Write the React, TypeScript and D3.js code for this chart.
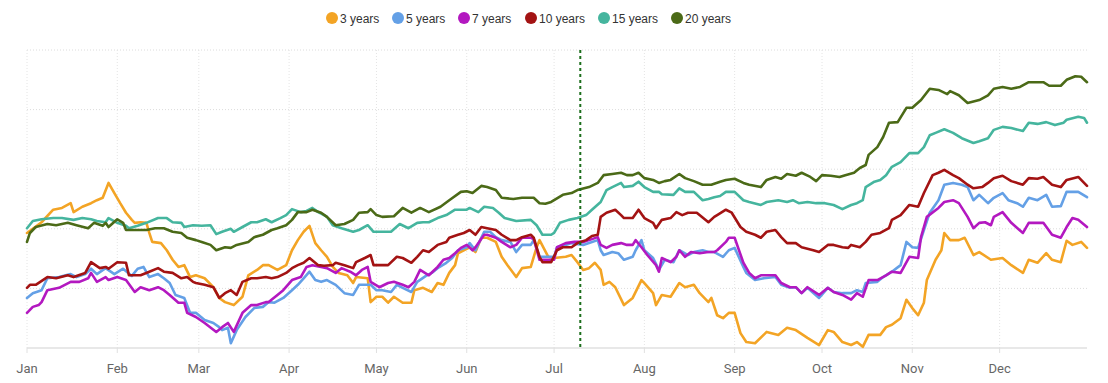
import React from "react";
import * as d3 from "d3";

const YEAR = 2023;
const seriesNames = ["3 years", "5 years", "7 years", "10 years", "15 years", "20 years"];
const seriesColors = ["#f3a425", "#64a0e6", "#b318c0", "#a31313", "#45b59e", "#4b6a17"];
const referenceDay = 190; // dotted marker (Jul 10)
const yTicks = [0, 1, 2, 3, 4, 5];

// [day of year, value]
const s3y: [number, number][] = [[0,1.93],[5,2.11],[9,2.32],[12,2.35],[15,2.43],[16,2.28],[19,2.37],[22,2.43],[24,2.48],[26,2.52],[28,2.77],[30,2.60],[32,2.43],[34,2.27],[36,2.15],[37,2.10],[39,2.11],[41,2.10],[42,1.93],[43,1.78],[46,1.76],[48,1.64],[50,1.48],[52,1.36],[54,1.39],[56,1.19],[58,1.22],[61,1.17],[64,1.02],[66,0.84],[68,0.77],[71,0.72],[74,0.86],[76,1.22],[79,1.31],[81,1.39],[83,1.39],[86,1.31],[89,1.39],[91,1.64],[93,1.81],[95,1.95],[97,2.05],[99,1.76],[101,1.64],[103,1.53],[105,1.36],[107,1.26],[110,1.22],[112,1.09],[113,1.19],[117,1.17],[118,0.77],[120,0.86],[122,0.86],[124,0.76],[126,0.86],[129,0.76],[132,0.76],[133,0.97],[136,1.01],[139,0.94],[141,1.09],[143,1.06],[145,1.26],[147,1.39],[148,1.59],[150,1.64],[152,1.69],[154,1.61],[156,1.85],[158,1.85],[161,1.78],[163,1.53],[165,1.39],[168,1.19],[170,1.34],[173,1.36],[175,1.69],[176,1.81],[179,1.53],[181,1.51],[185,1.53],[187,1.56],[189,1.44],[191,1.31],[193,1.34],[195,1.43],[197,1.31],[198,1.06],[200,1.11],[202,1.02],[205,0.72],[208,0.84],[211,1.14],[212,1.09],[215,0.92],[216,0.72],[218,0.89],[221,0.86],[224,1.09],[226,1.02],[229,1.06],[231,0.92],[234,0.77],[235,0.84],[237,0.55],[239,0.50],[241,0.59],[243,0.59],[245,0.25],[247,0.10],[250,0.08],[254,0.27],[258,0.22],[261,0.34],[264,0.30],[268,0.17],[272,0.05],[275,0.30],[277,0.27],[280,0.10],[283,0.05],[285,0.10],[287,0.02],[289,0.22],[293,0.22],[295,0.35],[297,0.39],[300,0.50],[302,0.81],[304,0.67],[306,0.55],[308,0.76],[309,1.14],[312,1.48],[314,1.64],[315,1.93],[317,1.81],[320,1.81],[322,1.85],[325,1.56],[327,1.61],[331,1.48],[335,1.51],[338,1.39],[342,1.26],[344,1.48],[347,1.43],[350,1.59],[352,1.48],[355,1.44],[357,1.80],[359,1.73],[362,1.78],[364,1.68]];

const s5y: [number, number][] = [[0,0.84],[2,0.92],[5,0.97],[7,1.17],[11,1.19],[15,1.24],[17,1.19],[20,1.24],[22,1.33],[24,1.24],[27,1.34],[30,1.24],[33,1.33],[36,1.21],[38,1.33],[40,1.36],[42,1.19],[45,1.24],[47,1.17],[49,1.09],[51,0.89],[54,0.84],[56,0.59],[58,0.59],[61,0.47],[64,0.42],[66,0.35],[67,0.30],[69,0.34],[70,0.08],[72,0.30],[75,0.52],[78,0.67],[81,0.69],[83,0.77],[85,0.76],[88,0.84],[91,0.97],[93,1.06],[95,1.17],[97,1.28],[99,1.14],[101,1.11],[103,1.14],[106,1.06],[109,0.92],[112,0.89],[114,1.06],[118,1.06],[120,0.97],[122,0.97],[125,0.94],[127,1.06],[129,1.01],[132,0.94],[134,1.11],[137,1.21],[139,1.26],[141,1.34],[144,1.43],[146,1.51],[148,1.64],[151,1.69],[152,1.76],[154,1.64],[157,1.95],[159,1.95],[161,1.86],[163,1.81],[166,1.78],[168,1.61],[170,1.73],[173,1.73],[174,1.81],[176,1.53],[179,1.53],[181,1.53],[182,1.69],[185,1.73],[187,1.76],[191,1.73],[193,1.76],[196,1.81],[197,1.64],[198,1.56],[201,1.61],[203,1.59],[205,1.48],[208,1.53],[209,1.64],[211,1.81],[212,1.64],[215,1.51],[217,1.31],[219,1.48],[222,1.44],[224,1.64],[227,1.56],[229,1.61],[232,1.64],[234,1.61],[236,1.61],[239,1.53],[241,1.64],[243,1.68],[246,1.36],[247,1.26],[250,1.14],[253,1.17],[257,1.19],[259,1.06],[262,1.01],[264,1.02],[266,0.92],[268,1.01],[272,0.84],[275,1.01],[277,0.94],[280,0.92],[283,0.92],[285,0.97],[287,0.94],[288,1.09],[292,1.11],[294,1.19],[297,1.28],[300,1.39],[302,1.78],[304,1.69],[306,1.68],[308,1.98],[310,2.27],[313,2.48],[315,2.74],[318,2.77],[321,2.74],[323,2.70],[325,2.48],[327,2.57],[330,2.43],[332,2.52],[335,2.60],[337,2.48],[340,2.43],[342,2.37],[344,2.52],[347,2.48],[350,2.57],[352,2.37],[355,2.38],[357,2.62],[361,2.62],[364,2.53]];

const s7y: [number, number][] = [[0,0.59],[2,0.69],[4,0.72],[5,0.77],[7,0.97],[11,1.01],[13,1.06],[15,1.11],[18,1.11],[21,1.17],[22,1.26],[24,1.11],[27,1.19],[28,1.14],[31,1.19],[34,1.14],[37,0.94],[39,1.02],[42,0.97],[45,1.02],[47,0.97],[49,0.89],[52,0.76],[54,0.76],[55,0.59],[58,0.52],[61,0.42],[65,0.27],[67,0.35],[69,0.42],[71,0.27],[74,0.59],[77,0.72],[79,0.72],[82,0.77],[83,0.77],[86,0.89],[88,0.97],[91,1.14],[94,1.19],[96,1.36],[98,1.39],[101,1.36],[103,1.34],[106,1.26],[108,1.34],[111,1.28],[113,1.22],[115,1.31],[117,1.36],[118,1.11],[121,1.02],[124,1.09],[126,1.11],[129,1.06],[131,1.02],[133,1.11],[135,1.31],[138,1.22],[141,1.36],[143,1.48],[145,1.51],[147,1.59],[149,1.68],[151,1.73],[153,1.64],[154,1.69],[157,1.90],[158,1.90],[161,1.85],[163,1.78],[166,1.69],[168,1.73],[170,1.85],[173,1.85],[174,1.83],[176,1.48],[179,1.48],[181,1.48],[182,1.69],[185,1.76],[188,1.78],[191,1.78],[193,1.81],[196,1.86],[197,1.73],[199,1.68],[201,1.73],[204,1.76],[206,1.73],[208,1.73],[209,1.81],[211,1.69],[213,1.56],[216,1.39],[217,1.28],[218,1.51],[221,1.44],[223,1.53],[224,1.64],[226,1.53],[228,1.61],[231,1.59],[234,1.61],[236,1.61],[237,1.64],[240,1.78],[241,1.85],[243,1.85],[246,1.43],[248,1.26],[250,1.17],[252,1.22],[257,1.22],[259,1.09],[262,1.02],[264,1.02],[266,0.92],[268,1.02],[272,0.89],[275,1.01],[277,0.94],[280,0.89],[283,0.81],[285,0.92],[287,0.86],[289,1.14],[292,1.14],[295,1.22],[297,1.28],[300,1.26],[303,1.53],[306,1.51],[307,1.86],[309,2.20],[313,2.35],[315,2.45],[318,2.48],[320,2.43],[323,2.20],[325,2.01],[327,2.10],[329,2.11],[331,2.06],[332,2.20],[335,2.28],[338,2.10],[342,1.93],[344,2.10],[349,2.10],[352,1.90],[355,1.85],[357,2.03],[359,2.18],[361,2.15],[364,2.03]];

const s10y: [number, number][] = [[0,1.01],[1,1.06],[3,1.06],[7,1.19],[10,1.17],[14,1.22],[16,1.19],[20,1.26],[22,1.44],[25,1.34],[27,1.36],[28,1.33],[31,1.44],[34,1.43],[35,1.22],[39,1.22],[42,1.28],[45,1.34],[47,1.28],[50,1.26],[53,1.17],[55,1.19],[57,1.11],[58,1.09],[61,1.06],[64,1.02],[66,0.84],[68,0.92],[70,0.97],[72,0.89],[74,1.11],[77,1.17],[79,1.17],[82,1.19],[84,1.17],[86,1.19],[89,1.26],[91,1.34],[93,1.39],[95,1.43],[97,1.51],[100,1.39],[102,1.38],[105,1.39],[106,1.43],[109,1.39],[112,1.34],[113,1.44],[116,1.51],[118,1.56],[119,1.39],[121,1.39],[124,1.39],[127,1.53],[129,1.51],[132,1.43],[134,1.53],[136,1.64],[138,1.61],[141,1.73],[144,1.78],[145,1.85],[148,1.90],[150,1.93],[152,1.98],[154,1.90],[156,2.03],[158,2.01],[161,1.98],[163,1.90],[166,1.81],[168,1.81],[170,1.86],[173,1.90],[174,1.85],[176,1.53],[177,1.44],[180,1.44],[182,1.64],[184,1.69],[187,1.69],[189,1.76],[192,1.81],[194,1.88],[196,1.90],[197,2.20],[199,2.27],[202,2.32],[204,2.23],[205,2.18],[208,2.18],[210,2.32],[212,2.18],[215,2.10],[216,2.01],[218,2.15],[221,2.18],[223,2.28],[225,2.23],[227,2.27],[230,2.27],[234,2.11],[236,2.20],[237,2.23],[240,2.32],[242,2.27],[245,2.03],[247,1.95],[250,1.90],[252,1.85],[254,1.95],[257,1.98],[259,1.86],[261,1.76],[264,1.76],[266,1.69],[270,1.64],[272,1.61],[275,1.73],[277,1.73],[280,1.69],[282,1.68],[283,1.73],[286,1.69],[288,1.78],[290,1.90],[293,1.93],[296,2.01],[297,2.15],[300,2.23],[303,2.40],[306,2.37],[308,2.60],[311,2.90],[313,2.94],[315,2.99],[318,2.90],[320,2.85],[323,2.74],[325,2.68],[328,2.70],[330,2.77],[332,2.85],[335,2.89],[338,2.80],[342,2.74],[344,2.85],[347,2.84],[349,2.87],[352,2.74],[355,2.70],[357,2.82],[361,2.87],[364,2.72]];

const s15y: [number, number][] = [[0,2.01],[2,2.13],[5,2.16],[9,2.18],[12,2.18],[16,2.15],[19,2.18],[22,2.16],[24,2.13],[27,2.11],[28,2.18],[31,2.10],[34,2.05],[35,2.01],[38,2.05],[41,2.10],[45,2.18],[48,2.18],[50,2.11],[53,2.10],[54,2.03],[57,2.06],[60,2.05],[63,2.06],[65,1.91],[67,1.95],[70,2.00],[71,1.95],[74,2.03],[77,2.11],[79,2.11],[82,2.16],[84,2.11],[87,2.18],[89,2.23],[91,2.33],[94,2.28],[96,2.30],[98,2.35],[100,2.28],[102,2.23],[103,2.20],[105,2.06],[108,2.01],[112,1.95],[114,1.98],[117,2.06],[119,1.95],[121,1.95],[125,1.95],[128,2.08],[131,2.01],[134,2.10],[136,2.11],[138,2.11],[141,2.18],[144,2.23],[147,2.32],[151,2.32],[152,2.35],[155,2.28],[157,2.37],[160,2.35],[162,2.27],[164,2.18],[168,2.13],[173,2.15],[175,2.06],[177,1.90],[180,1.90],[181,1.93],[183,2.10],[186,2.15],[189,2.18],[192,2.23],[194,2.32],[197,2.45],[199,2.65],[201,2.70],[204,2.77],[205,2.70],[208,2.72],[210,2.79],[212,2.70],[215,2.62],[217,2.62],[218,2.58],[222,2.57],[224,2.68],[226,2.62],[229,2.62],[232,2.48],[234,2.50],[236,2.53],[238,2.55],[240,2.62],[243,2.62],[246,2.48],[248,2.45],[252,2.40],[254,2.45],[258,2.48],[261,2.45],[263,2.48],[265,2.43],[268,2.45],[271,2.43],[274,2.43],[277,2.40],[280,2.33],[283,2.40],[285,2.43],[287,2.48],[288,2.70],[291,2.79],[293,2.82],[295,2.90],[297,3.04],[300,3.12],[303,3.27],[306,3.27],[308,3.37],[310,3.57],[312,3.61],[315,3.67],[318,3.61],[321,3.52],[325,3.44],[327,3.47],[330,3.52],[332,3.66],[335,3.71],[338,3.69],[342,3.64],[344,3.78],[347,3.76],[350,3.79],[353,3.74],[356,3.78],[357,3.83],[361,3.88],[363,3.86],[364,3.78]];

const s20y: [number, number][] = [[0,1.78],[1,1.93],[3,2.03],[7,2.08],[10,2.06],[14,2.10],[17,2.06],[21,2.01],[23,2.10],[26,2.05],[27,2.10],[28,2.03],[31,2.16],[33,2.10],[34,1.98],[37,1.98],[41,1.98],[44,2.01],[47,2.01],[50,1.95],[53,1.93],[55,1.85],[58,1.81],[60,1.78],[63,1.73],[65,1.64],[68,1.69],[70,1.68],[72,1.73],[76,1.78],[78,1.86],[81,1.90],[84,1.98],[86,2.01],[89,2.06],[91,2.15],[93,2.28],[96,2.28],[98,2.32],[101,2.27],[103,2.20],[106,2.06],[109,2.08],[112,2.15],[114,2.27],[117,2.28],[118,2.33],[120,2.23],[122,2.20],[126,2.21],[129,2.35],[132,2.27],[135,2.35],[138,2.28],[142,2.37],[145,2.48],[149,2.62],[151,2.63],[153,2.60],[156,2.72],[158,2.70],[161,2.65],[163,2.52],[167,2.50],[170,2.52],[174,2.52],[176,2.43],[178,2.42],[180,2.45],[184,2.57],[187,2.60],[189,2.65],[193,2.70],[196,2.77],[198,2.90],[201,2.92],[204,2.94],[206,2.90],[208,2.90],[210,2.94],[212,2.85],[215,2.82],[217,2.77],[219,2.80],[221,2.82],[224,2.92],[226,2.85],[229,2.80],[232,2.74],[235,2.74],[238,2.79],[240,2.82],[243,2.84],[246,2.77],[248,2.74],[252,2.70],[254,2.82],[257,2.87],[259,2.84],[261,2.92],[264,2.89],[266,2.94],[269,2.87],[271,2.80],[273,2.90],[276,2.89],[279,2.87],[281,2.90],[284,2.94],[286,3.02],[288,3.07],[289,3.24],[292,3.37],[294,3.54],[296,3.78],[299,3.79],[302,4.03],[304,4.03],[307,4.16],[310,4.35],[313,4.33],[316,4.26],[317,4.31],[320,4.24],[323,4.11],[327,4.16],[330,4.24],[332,4.35],[335,4.38],[338,4.35],[341,4.38],[344,4.46],[349,4.46],[351,4.40],[355,4.40],[357,4.50],[360,4.56],[362,4.55],[364,4.46]];

const seriesData = [s3y, s5y, s7y, s10y, s15y, s20y];

const legendX = [332, 398, 464, 531, 604, 677];

export default function App() {
  const width = 1108;
  const height = 383;
  const margin = { left: 27, right: 21, top: 50, bottom: 35 };
  const start = new Date(YEAR, 0, 1);
  const x = d3
    .scaleTime()
    .domain([start, new Date(YEAR, 11, 31)])
    .range([margin.left, width - margin.right]);
  const y = d3.scaleLinear().domain([0, 5]).range([height - margin.bottom, margin.top]);
  const toDate = (d: number) => d3.timeDay.offset(start, d);
  const line = d3
    .line<[number, number]>()
    .x((p) => x(toDate(p[0])))
    .y((p) => y(p[1]));
  const months = x.ticks(d3.timeMonth.every(1) as any);
  const fmt = d3.timeFormat("%b");
  const x0 = margin.left;
  const x1 = width - margin.right;
  const yb = y(0);
  const yt = y(5);
  const refX = x(toDate(referenceDay));

  return (
    <svg
      width={width}
      height={height}
      style={{ position: "absolute", left: 0, top: 0, background: "#fff" }}
    >
      {yTicks.filter((t) => t > 0).map((t) => (
        <line key={"h" + t} x1={x0} x2={x1} y1={y(t)} y2={y(t)} stroke="#dcdcdc" strokeWidth={1} strokeDasharray="1,2" />
      ))}
      {months.map((m, i) => (
        <line key={"v" + i} x1={x(m)} x2={x(m)} y1={yt} y2={yb} stroke="#e4e4e4" strokeWidth={1} strokeDasharray="1,2" />
      ))}
      <line x1={x0} x2={x1} y1={yb} y2={yb} stroke="#e0e0e0" strokeWidth={1.5} />
      {months.map((m, i) => (
        <g key={"t" + i}>
          <line x1={x(m)} x2={x(m)} y1={yb} y2={yb + 5} stroke="#e0e0e0" strokeWidth={1} />
          <text x={x(m)} y={yb + 25} textAnchor="middle" fontFamily="Roboto, 'Noto Sans', sans-serif" fontSize={13} fill="#666">
            {fmt(m)}
          </text>
        </g>
      ))}
      {seriesData.map((s, i) => (
        <path key={"s" + i} d={line(s) || ""} fill="none" stroke={seriesColors[i]} strokeWidth={2.6} strokeLinejoin="round" strokeLinecap="round" />
      ))}
      <line x1={refX} x2={refX} y1={yt} y2={yb} stroke="#1c6e1c" strokeWidth={2} strokeDasharray="3,3" />
      {seriesNames.map((n, i) => (
        <g key={"l" + i}>
          <circle cx={legendX[i]} cy={18} r={6} fill={seriesColors[i]} />
          <text x={legendX[i] + 8} y={22.5} fontFamily="'Liberation Sans', Arial, sans-serif" fontSize={12} fill="#333">
            {n}
          </text>
        </g>
      ))}
    </svg>
  );
}
